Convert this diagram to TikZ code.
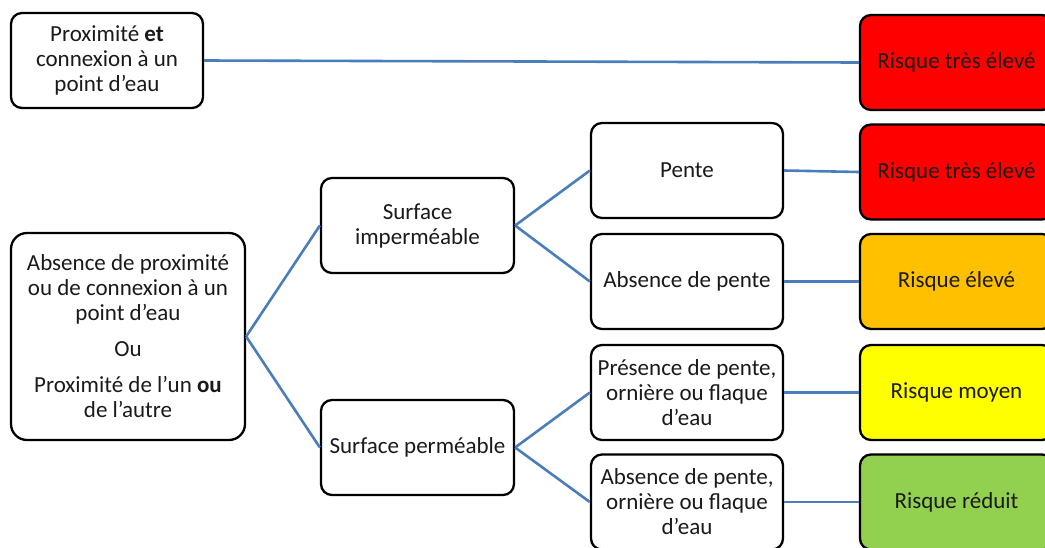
\documentclass[tikz,border=0pt]{standalone}
\usepackage{fontspec}
\setmainfont{Carlito}
\definecolor{linkblue}{HTML}{4A7EBB}
\definecolor{rred}{HTML}{FF0000}
\definecolor{rorange}{HTML}{FFC000}
\definecolor{ryellow}{HTML}{FFFF00}
\definecolor{rgreen}{HTML}{92D050}
\definecolor{txt}{HTML}{1A1A1A}
\begin{document}
\begin{tikzpicture}[x=1pt,y=-1pt,
  box/.style={draw=black, line width=2.3pt, rounded corners=11pt, fill=white,
    minimum width=192pt, minimum height=95pt, inner sep=2pt, align=center,
    text=txt, font=\fontsize{23}{25}\selectfont},
  riskbox/.style={box, minimum width=193pt},
  link/.style={draw=linkblue, line width=2.6pt}]
\useasboundingbox (0,0) rectangle (1045,547);
\clip (0,0) rectangle (1045,547);
\node[box] (prox) at (107,60.5) {Proximité \textbf{et}\\connexion à un\\point d’eau};
\node[riskbox, fill=rred] (r1) at (956.5,62.5) {Risque très élevé};
\node[riskbox, fill=rred] (r2) at (956.5,172) {Risque très élevé};
\node[riskbox, fill=rorange] (r3) at (956.5,281.5) {Risque élevé};
\node[riskbox, fill=ryellow] (r4) at (956.5,392.5) {Risque moyen};
\node[riskbox, fill=rgreen] (r5) at (956.5,502) {Risque réduit};
\node[box] (pente) at (687,170.5) {Pente};
\node[box] (absp) at (687,281.5) {Absence de pente};
\node[box] (pres) at (687,392.5) {Présence de pente,\\ornière ou flaque\\d’eau};
\node[box] (absp2) at (687,502) {Absence de pente,\\ornière ou flaque\\d’eau};
\node[box, minimum width=193pt] (imp) at (417.5,225.5) {Surface\\imperméable};
\node[box, minimum width=193pt] (perm) at (417.5,447.5) {Surface perméable};
\node[box, minimum width=234pt, minimum height=207pt, rounded corners=16pt] (big) at (128,336.5)
  {Absence de proximité\\ou de connexion à un\\point d’eau\\[11pt]Ou\\[11pt]Proximité de l’un \textbf{ou}\\de l’autre};
\draw[link] (prox.east) -- (r1.west);
\draw[link] (big.east) -- (imp.west);
\draw[link] (big.east) -- (perm.west);
\draw[link] (imp.east) -- (pente.west);
\draw[link] (imp.east) -- (absp.west);
\draw[link] (perm.east) -- (pres.west);
\draw[link] (perm.east) -- (absp2.west);
\draw[link] (pente.east) -- (r2.west);
\draw[link] (absp.east) -- (r3.west);
\draw[link] (pres.east) -- (r4.west);
\draw[link] (absp2.east) -- (r5.west);
\end{tikzpicture}
\end{document}
